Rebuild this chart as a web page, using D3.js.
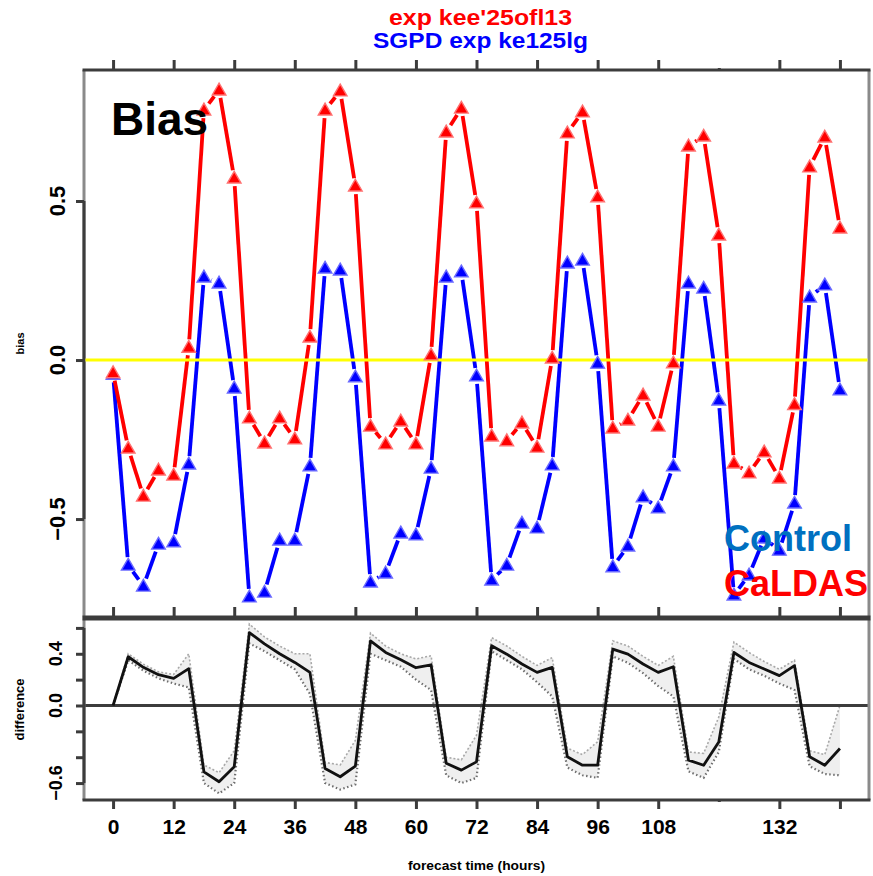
<!DOCTYPE html>
<html>
<head>
<meta charset="utf-8">
<script src="https://cdn.jsdelivr.net/npm/d3@7"></script>
<style>
  body { margin: 0; background: #fff; }
  svg text { font-family: "Liberation Sans", Arial, Helvetica, sans-serif; }
</style>
</head>
<body>
<svg id="chart" width="873" height="876"></svg>
<script>
// Forecast lead times (hours)
const hours = [0,3,6,9,12,15,18,21,24,27,30,33,36,39,42,45,48,51,54,57,60,63,66,69,72,
               75,78,81,84,87,90,93,96,99,102,105,108,111,114,117,120,123,126,129,132,135,138,141,144];

// Bias of each experiment
const caldasBias = [-0.04,-0.277,-0.428,-0.346,-0.362,0.04,0.786,0.849,0.572,-0.182,-0.261,-0.182,-0.248,0.072,
                    0.786,0.846,0.547,-0.208,-0.264,-0.192,-0.264,0.016,0.717,0.792,0.494,-0.239,-0.254,-0.198,
                    -0.274,0.006,0.714,0.78,0.513,-0.214,-0.189,-0.11,-0.208,-0.009,0.673,0.704,0.393,-0.324,
                    -0.355,-0.289,-0.371,-0.14,0.607,0.701,0.415];
const controlBias = [-0.045,-0.645,-0.711,-0.579,-0.572,-0.327,0.261,0.242,-0.088,-0.745,-0.73,-0.566,-0.566,-0.333,
                     0.289,0.283,-0.053,-0.698,-0.67,-0.544,-0.55,-0.34,0.261,0.277,-0.05,-0.692,-0.645,-0.513,
                     -0.528,-0.33,0.305,0.314,-0.01,-0.65,-0.585,-0.43,-0.465,-0.333,0.242,0.226,-0.126,-0.739,
                     -0.676,-0.56,-0.598,-0.45,0.198,0.236,-0.094];

// Difference between experiments with its confidence band
const diffMean = [0.0,0.377,0.295,0.238,0.21,0.285,-0.513,-0.59,-0.474,0.564,0.477,0.40,0.333,0.256,-0.487,-0.551,
                  -0.469,0.50,0.41,0.354,0.292,0.315,-0.447,-0.50,-0.436,0.462,0.397,0.321,0.256,0.295,-0.397,
                  -0.462,-0.462,0.436,0.397,0.321,0.256,0.30,-0.423,-0.462,-0.282,0.41,0.333,0.282,0.231,0.308,
                  -0.397,-0.462,-0.333];
const diffUpper = [0.0,0.40,0.32,0.26,0.24,0.40,-0.46,-0.52,-0.35,0.63,0.53,0.46,0.40,0.40,-0.44,-0.46,-0.27,0.56,
                   0.46,0.40,0.36,0.385,-0.40,-0.42,-0.23,0.525,0.46,0.38,0.31,0.37,-0.33,-0.38,-0.28,0.50,0.46,
                   0.38,0.31,0.38,-0.36,-0.37,-0.09,0.49,0.41,0.34,0.28,0.35,-0.35,-0.38,0.0];
const diffLower = [0.0,0.35,0.27,0.21,0.17,0.14,-0.60,-0.68,-0.60,0.48,0.42,0.35,0.28,0.09,-0.60,-0.65,-0.61,0.40,
                   0.35,0.30,0.20,0.12,-0.54,-0.60,-0.56,0.42,0.35,0.28,0.18,0.07,-0.48,-0.54,-0.56,0.38,0.33,
                   0.25,0.15,0.07,-0.51,-0.56,-0.36,0.36,0.28,0.23,0.17,0.12,-0.47,-0.53,-0.54];

// Axis ticks and labels
const hourTicks = [0,12,24,36,48,60,72,84,96,108,120,132,144];
const hourLabelled = [0,12,24,36,48,60,72,84,96,108,132];
const hourMinorTick = [120];
const biasTicks = [-0.5,0,0.5];
const diffTicks = [-0.6,-0.4,-0.2,0,0.2,0.4,0.6];
const diffLabelled = [-0.6,0,0.4];
const seriesNames = ["Control","CaLDAS"];
const titleLines = ["exp kee'25ofl13","SGPD exp ke125lg"];
const axisTitles = {top: "bias", bottom: "difference", x: "forecast time (hours)"};

const svg = d3.select("#chart");
const L = 84, R = 869;
const top1 = 70, bot1 = 617, top2 = 619, bot2 = 800;

const x = d3.scaleLinear().domain([-5.76, 149.76]).range([L, R]);
const yB = d3.scaleLinear().domain([-0.808, 0.912]).range([bot1, top1]);
const yD = d3.scaleLinear().domain([-0.731, 0.669]).range([bot2, top2]);

const dark = "#3c3c3c", grey = "#8a8a8a";

// ---- titles
svg.append("text").attr("x", 389).attr("y", 25).attr("font-size", 22).attr("font-weight", "bold")
  .attr("fill", "#ff0000").attr("textLength", 183).attr("lengthAdjust", "spacingAndGlyphs").text(titleLines[0]);
svg.append("text").attr("x", 373).attr("y", 48).attr("font-size", 22).attr("font-weight", "bold")
  .attr("fill", "#0000ff").attr("textLength", 215).attr("lengthAdjust", "spacingAndGlyphs").text(titleLines[1]);

// ---- top panel frame
const g1 = svg.append("g");
g1.append("line").attr("x1", L).attr("x2", L).attr("y1", top1).attr("y2", bot1).attr("stroke", grey).attr("stroke-width", 3);
g1.append("line").attr("x1", R).attr("x2", R).attr("y1", top1).attr("y2", bot1).attr("stroke", grey).attr("stroke-width", 3);
g1.append("line").attr("x1", L - 1.5).attr("x2", R + 1.5).attr("y1", top1).attr("y2", top1).attr("stroke", dark).attr("stroke-width", 3);
g1.append("line").attr("x1", L - 1.5).attr("x2", R + 1.5).attr("y1", bot1).attr("y2", bot1).attr("stroke", dark).attr("stroke-width", 3);

// left axis of bias panel
const axB = g1.append("g").attr("transform", `translate(${L},0)`)
  .call(d3.axisLeft(yB).tickValues(biasTicks).tickSize(8).tickFormat(""));
axB.select(".domain").remove();
axB.selectAll(".tick line").attr("stroke", dark).attr("stroke-width", 3);
g1.append("line").attr("x1", L).attr("x2", L).attr("y1", yB(d3.max(biasTicks))).attr("y2", yB(d3.min(biasTicks)))
  .attr("stroke", dark).attr("stroke-width", 3);
biasTicks.forEach(v => {
  svg.append("text").attr("transform", `translate(65,${yB(v)}) rotate(-90)`)
    .attr("text-anchor", "middle").attr("font-size", 22).attr("font-weight", "bold")
    .text(v === 0 ? "0.0" : (v < 0 ? "\u2212" : "") + d3.format(".1f")(Math.abs(v)));
});
svg.append("text").attr("transform", `translate(24,${(top1 + bot1) / 2}) rotate(-90)`)
  .attr("text-anchor", "middle").attr("font-size", 11).attr("font-weight", "bold").text(axisTitles.top);

// ticks along top edge
const axTop = g1.append("g").attr("transform", `translate(0,${top1})`)
  .call(d3.axisTop(x).tickValues(hourTicks).tickSize(10).tickFormat(""));
axTop.select(".domain").remove();
axTop.selectAll(".tick line").attr("stroke", dark).attr("stroke-width", 3)
  .attr("y2", d => hourMinorTick.includes(d) ? -2 : -10);

// ticks along the panel boundary
const axMid = g1.append("g").attr("transform", `translate(0,${bot1 + 1})`)
  .call(d3.axisTop(x).tickValues(hourTicks).tickSize(11).tickFormat(""));
axMid.select(".domain").remove();
axMid.selectAll(".tick line").attr("stroke", dark).attr("stroke-width", 3)
  .attr("y2", d => hourMinorTick.includes(d) ? -2 : -11);

// ---- bias series, drawn with gaps around each point
function gappedSegments(xs, ys, gap) {
  const segs = [];
  for (let i = 0; i < xs.length - 1; i++) {
    const x1 = x(xs[i]), y1 = yB(ys[i]), x2 = x(xs[i + 1]), y2 = yB(ys[i + 1]);
    const len = Math.hypot(x2 - x1, y2 - y1);
    if (len <= 2 * gap) continue;
    const ux = (x2 - x1) / len, uy = (y2 - y1) / len;
    segs.push([x1 + ux * gap, y1 + uy * gap, x2 - ux * gap, y2 - uy * gap]);
  }
  return segs;
}

const series = [
  {name: seriesNames[0], values: controlBias, color: "#0000ff", edge: "#6a6aff"},
  {name: seriesNames[1], values: caldasBias, color: "#ff0000", edge: "#ff7070"}
];

const lineLayer = svg.append("g");
series.forEach(s => {
  lineLayer.append("g").selectAll("line").data(gappedSegments(hours, s.values, 8)).join("line")
    .attr("x1", d => d[0]).attr("y1", d => d[1]).attr("x2", d => d[2]).attr("y2", d => d[3])
    .attr("stroke", s.color).attr("stroke-width", 3.8);
});

// zero reference line
svg.append("line").attr("x1", L + 1.5).attr("x2", R - 1.5).attr("y1", yB(0)).attr("y2", yB(0))
  .attr("stroke", "#ffff00").attr("stroke-width", 3);

const tri = d3.symbol().type(d3.symbolTriangle).size(80);
series.forEach(s => {
  svg.append("g").selectAll("path").data(hours).join("path")
    .attr("transform", (h, i) => `translate(${x(h)},${yB(s.values[i]) + 1})`)
    .attr("d", tri).attr("fill", s.color).attr("stroke", s.edge).attr("stroke-width", 1.4);
});

// panel label and legend
svg.append("text").attr("x", 111).attr("y", 135).attr("font-size", 46).attr("font-weight", "bold").attr("fill", "#000").text("Bias");
svg.append("text").attr("x", 724).attr("y", 551).attr("font-size", 36).attr("font-weight", "bold").attr("fill", "#0070c0").text(seriesNames[0]);
svg.append("text").attr("x", 724).attr("y", 596).attr("font-size", 36).attr("font-weight", "bold").attr("fill", "#ff0000").text(seriesNames[1]);

// ---- difference panel
const g2 = svg.append("g");
g2.append("path").datum(hours)
  .attr("d", d3.area().x(h => x(h)).y0((h, i) => yD(diffLower[i])).y1((h, i) => yD(diffUpper[i])))
  .attr("fill", "#efefef");
g2.append("path").datum(hours)
  .attr("d", d3.line().x(h => x(h)).y((h, i) => yD(diffUpper[i])))
  .attr("fill", "none").attr("stroke", "#a8a8a8").attr("stroke-width", 1.6).attr("stroke-dasharray", "2,2");
g2.append("path").datum(hours)
  .attr("d", d3.line().x(h => x(h)).y((h, i) => yD(diffLower[i])))
  .attr("fill", "none").attr("stroke", "#6e6e6e").attr("stroke-width", 2.2).attr("stroke-dasharray", "1.5,2.5");

g2.append("line").attr("x1", L).attr("x2", R).attr("y1", yD(0)).attr("y2", yD(0)).attr("stroke", dark).attr("stroke-width", 3);

g2.append("path").datum(hours)
  .attr("d", d3.line().x(h => x(h)).y((h, i) => yD(diffMean[i])))
  .attr("fill", "none").attr("stroke", "#111").attr("stroke-width", 2.8).attr("stroke-linejoin", "round");

g2.append("line").attr("x1", L).attr("x2", L).attr("y1", top2).attr("y2", bot2).attr("stroke", grey).attr("stroke-width", 3);
g2.append("line").attr("x1", R).attr("x2", R).attr("y1", top2).attr("y2", bot2).attr("stroke", grey).attr("stroke-width", 3);
g2.append("line").attr("x1", L - 1.5).attr("x2", R + 1.5).attr("y1", top2).attr("y2", top2).attr("stroke", dark).attr("stroke-width", 3);
g2.append("line").attr("x1", L - 1.5).attr("x2", R + 1.5).attr("y1", bot2).attr("y2", bot2).attr("stroke", dark).attr("stroke-width", 3);

const axD = g2.append("g").attr("transform", `translate(${L},0)`)
  .call(d3.axisLeft(yD).tickValues(diffTicks).tickSize(8).tickFormat(""));
axD.select(".domain").remove();
axD.selectAll(".tick line").attr("stroke", dark).attr("stroke-width", 3);
g2.append("line").attr("x1", L).attr("x2", L).attr("y1", yD(d3.max(diffTicks))).attr("y2", yD(d3.min(diffTicks)))
  .attr("stroke", dark).attr("stroke-width", 3);
diffLabelled.forEach(v => {
  svg.append("text").attr("transform", `translate(62,${yD(v)}) rotate(-90)`)
    .attr("text-anchor", "middle").attr("font-size", 18).attr("font-weight", "bold")
    .text(v === 0 ? "0.0" : (v < 0 ? "\u2212" : "") + d3.format(".1f")(Math.abs(v)));
});
svg.append("text").attr("transform", `translate(24,${(top2 + bot2) / 2}) rotate(-90)`)
  .attr("text-anchor", "middle").attr("font-size", 13).attr("font-weight", "bold").text(axisTitles.bottom);

// bottom time axis
const axX = g2.append("g").attr("transform", `translate(0,${bot2})`)
  .call(d3.axisBottom(x).tickValues(hourTicks).tickSize(9).tickPadding(10)
    .tickFormat(h => hourLabelled.includes(h) ? String(h) : ""));
axX.select(".domain").remove();
axX.selectAll(".tick line").attr("stroke", dark).attr("stroke-width", 3)
  .attr("y2", d => hourMinorTick.includes(d) ? 2 : 9);
axX.selectAll(".tick text").attr("fill", "#000").attr("font-size", 21).attr("font-weight", "bold")
  .attr("font-family", "'Liberation Sans', Arial, sans-serif").attr("dy", "0.71em");

svg.append("text").attr("x", 408).attr("y", 870).attr("font-size", 13).attr("font-weight", "bold")
  .attr("textLength", 137).attr("lengthAdjust", "spacingAndGlyphs").text(axisTitles.x);
</script>
</body>
</html>
